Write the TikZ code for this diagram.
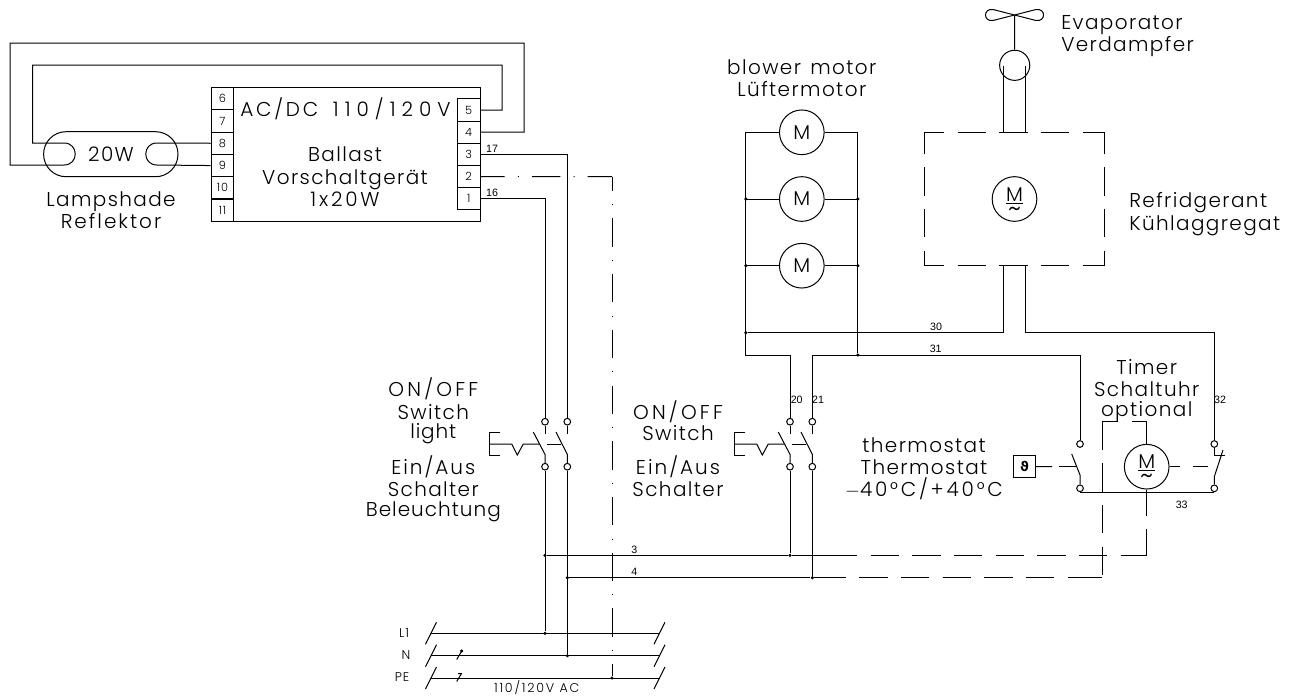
\documentclass[tikz,border=0pt]{standalone}
\usepackage{fontspec}
\setmainfont{Poppins}[UprightFont=* Light,LetterSpace=7]
\newfontfamily\numfont{Liberation Sans}
\newfontfamily\symfont{DejaVu Sans}
\newcommand{\wider}[1]{\addfontfeature{LetterSpace=#1}}
\newcommand{\acmotor}{\rule{0pt}{15pt}\underline{M}\\[-3pt]{\fontsize{20}{20}\selectfont\textasciitilde}}
\tikzset{
    wire/.style={line width=.75pt},
    dashwire/.style={wire,dash pattern=on 21.2pt off 10.05pt},
    pewire/.style={wire,dash pattern=on 21.2pt off 10pt on .8pt off 9.8pt},
    term/.style={circle,draw,line width=.75pt,fill=white,minimum size=5pt,inner sep=0pt},
    junct/.style={circle,fill=black,minimum size=2.6pt,inner sep=0pt},
    motor/.style={circle,draw,line width=.75pt,minimum size=33.5pt,inner sep=0pt,font=\fontsize{15}{15}\selectfont},
    pin/.style={draw,line width=.75pt,minimum width=17pt,minimum height=16.7pt,inner sep=0pt,font=\fontsize{8.5}{9}\selectfont},
    big/.style={anchor=base,inner sep=0pt,font=\fontsize{15}{15}\selectfont},
    bigw/.style={big,anchor=base west},
    tiny/.style={inner sep=0pt,font=\numfont\fontsize{8}{9}\selectfont},
    small/.style={inner sep=0pt,font=\fontsize{9.5}{10}\selectfont},
}
\begin{document}
\begin{tikzpicture}[x=.75pt,y=-.75pt]
    \useasboundingbox (0,0) rectangle (1295,697);
    % ballast
    \draw[wire] (211,87.5) rectangle (480,221);
    \foreach \n [count=\i] in {6,...,11}
        \node[pin] (tl\n) at (222.5,87.5+11.15+22.3*\i-22.3) {\n};
    \foreach \n [count=\i] in {5,...,1}
        \node[pin,fill=white] (tr\n) at (468.7,110+22.2*\i-22.2) {\n};
    \node[bigw] at (240,116) {{\wider{14}AC/DC}\hspace{11pt}{\wider{30}110/120V}};
    \node[big] at (345,161.7) {Ballast};
    \node[big] at (345,184) {Vorschaltgerät};
    \node[big] at (345,206.7) {{\wider{14}1x20W}};
    % lamp
    \draw[wire,rounded corners=16.8pt] (43.6,131.7) rectangle (178,176.7);
    \node[big] at (111,161.7) {20W};
    \node[big] at (111,206) {Lampshade};
    \node[big] at (111,228.5) {{\wider{10}Reflektor}};
    \coordinate (outerNE) at (524,43);
    \coordinate (outerSW) at (10,165);
    \coordinate (innerNE) at (502,65);
    \coordinate (innerSW) at (32.5,143);
    \draw[wire] (tr4.east) -| (outerNE) -| (outerSW) -- (64,165) .. controls (79,165) and (79,143) .. (64,143) -- (innerSW) |- (innerNE) |- (tr5.east);
    \draw[wire] (tl8.west) -- (157,143) .. controls (142,143) and (142,165) .. (157,165) -- (tl9.west);
    % bus and mains
    \foreach \name/\by/\txt/\lx in {L1/633.3/L1/404,N/655.7/N/406,PE/678/PE/402}{
        \coordinate (\name a) at (431,\by);
        \coordinate (\name b) at (659.5,\by);
        \draw[wire] (\name a) -- (\name b);
        \draw[wire] (\name a) ++(5.5,-11) -- ++(-11,22);
        \draw[wire] (\name b) ++(5.5,-11) -- ++(-11,22);
        \node[small] (lab\name) at (\lx,\by-.5) {\txt};
    }
    \draw[wire] (461.7,651) -- (456.7,659.5);
    \node[junct] at (461.7,651) {};
    \draw[wire] (456.7,681.5) -- (461.5,673.5) -- (458,673.5);
    \node[small] (acnote) at (536.7,688) {{\wider{14}110/120V AC}};
    % switches
    \foreach \sx in {0,245}{
        \node[term] (ua\sx) at ({545+\sx},421.7) {};
        \node[term] (ub\sx) at ({567.3+\sx},421.7) {};
        \node[term] (la\sx) at ({545+\sx},466.7) {};
        \node[term] (lb\sx) at ({567.3+\sx},466.7) {};
        \draw[wire] (ua\sx.south) -- ++(0,8.5);
        \draw[wire] (ub\sx.south) -- ++(0,8.5);
        \draw[wire] (la\sx.north) -- ++(0,-8.5) -- ++(-11.7,-22.3);
        \draw[wire] (lb\sx.north) -- ++(0,-8.5) -- ++(-11.3,-22.3);
        \draw[wire] ({500+\sx},432.7) -- ({489.3+\sx},432.7) -- ({489.3+\sx},455) -- ({500+\sx},455);
        \draw[wire] ({489.3+\sx},444) -- ({511.7+\sx},444) -- ({517.3+\sx},455) -- ({523.3+\sx},444) -- ({539.7+\sx},444);
        \draw[wire] ({546.7+\sx},444) -- ({561+\sx},444);
    }
    % wires down from the ballast
    \node[junct] (j3a) at (545,555.3) {};
    \node[junct] (j4a) at (567.3,577.7) {};
    \node[junct] (jL1) at (545,633.3) {};
    \node[junct] (jN) at (567.3,655.7) {};
    \node[junct] (jPE) at (612,678) {};
    \node[junct] (j3b) at (790,555.3) {};
    \node[junct] (j4b) at (812.3,577.7) {};
    \draw[wire] (tr1.east) -| (ua0.north);
    \draw[wire] (tr3.east) -| (ub0.north);
    \draw[wire] (la0.south) -- (jL1);
    \draw[wire] (lb0.south) -- (jN);
    \draw[wire] (la245.south) -- (j3b);
    \draw[wire] (lb245.south) -- (j4b);
    \node[tiny] (n17) at (492,149) {17};
    \node[tiny] (n16) at (492,193) {16};
    \node[tiny] (n3) at (634.3,550) {3};
    \node[tiny] (n4) at (634.3,572) {4};
    % PE line
    \coordinate (peC) at (612,176.7);
    \draw[pewire,dash phase=3.2pt] (tr2.east) -- (peC);
    \draw[pewire,dash phase=10.6pt] (peC) -- (jPE);
    % 3 and 4
    \coordinate (d3) at (829,555.3);
    \coordinate (d4) at (859.3,577.7);
    \coordinate (t4) at (1102.3,421.7);
    \coordinate (e4) at (1068,577.7);
    \draw[wire] (j3a) -- (j3b) -- (d3);
    \draw[wire] (j4a) -- (j4b) -- (846,577.7);
    \draw[dashwire] (d4) -- (e4);
    \draw[wire] (e4) -- (1102.3,577.7);
    \draw[dashwire] (t4) -- (1102.3,577.7);
    % refrigerant
    \draw[dashwire,dash phase=6.45pt] (924.6,132.3) -- (1104.4,132.3);
    \draw[dashwire,dash phase=6.45pt] (924.6,265.7) -- (1104.4,265.7);
    \draw[dashwire,dash phase=5pt] (924.6,132.3) -- (924.6,265.7);
    \draw[dashwire,dash phase=5pt] (1104.4,132.3) -- (1104.4,265.7);
    \node[motor,align=center] (mr) at (1014.5,199) {\acmotor};
    \node[circle,draw,wire,minimum size=22.6pt,inner sep=0pt] (fanhub) at (1014.7,65.3) {};
    \coordinate (fan) at (1014.5,15);
    \draw[wire] (fanhub.north) -- (fan);
    \draw[wire] (fan) -- (993,9.5) .. controls (983,8) and (983,22) .. (993,20.5) -- (1036,9.5) .. controls (1046,8) and (1046,22) .. (1036,20.5) -- (fan);
    \draw[wire] (1003.6,132.3) -- (1003.6,66);
    \draw[wire] (1025.8,132.3) -- (1025.8,66);
    \node[bigw] at (1061,29.3) {Evaporator};
    \node[bigw] at (1061,51.7) {Verdampfer};
    \node[bigw] at (1129,207.3) {Refridgerant};
    \node[bigw] at (1129,230) {Kühlaggregat};
    % blower motors
    \node[big] at (801.8,74) {blower\hspace{7pt}motor};
    \node[big] at (801.8,96.7) {Lüftermotor};
    \coordinate (railL) at (745.8,132.3);
    \coordinate (railR) at (857.8,132.3);
    \node[junct] (j30) at (745.8,332.7) {};
    \node[junct] (j31) at (857.8,355) {};
    \foreach \y [count=\i] in {132.3,199,265.7}{
        \node[motor] (m\i) at (801.8,\y) {M};
    }
    \draw[wire] (m1.west) -- (railL) -- (745.8,355) -| (ua245.north);
    \draw[wire] (m1.east) -- (railR) -- (j31);
    \foreach \i in {2,3}{
        \draw[wire] (m\i.west) -- (m\i.west -| railL) node[junct] {};
        \draw[wire] (m\i.east) -- (m\i.east -| railR) node[junct] {};
    }
    % 30 31 and controls
    \node[term] (th1) at (1080,444) {};
    \node[term] (th2) at (1080,488.3) {};
    \node[term] (ti1) at (1214.3,444) {};
    \node[term] (ti2) at (1214.3,488.3) {};
    \node[motor,align=center] (mt) at (1146.7,466.7) {\acmotor};
    \coordinate (c31) at (1080,355);
    \draw[wire] (j30) -| (1003.6,265.7);
    \draw[wire] (1025.8,265.7) |- (1214.3,332.7) -- (ti1.north);
    \draw[wire] (ub245.north) |- (c31) -- (th1.north);
    \draw[wire] (th2.north) -- (1080,475) -- (1071.7,454);
    \draw[wire] (th2.south) |- (ti2.south);
    \draw[wire] (ti1.south) -- (1214.3,455) -- (1225,455);
    \draw[wire] (ti2.north) -- (1214.3,476.7) -- (1223,450);
    \draw[wire] (mt.south) -- (1146.7,515.7);
    \draw[wire] (1146.7,529) -- (1146.7,555.3) -- (1121,555.3);
    \draw[dashwire] (d3) -- (1121,555.3);
    \draw[wire] (t4) -- (1118.3,421.7);
    \draw[wire] (1131.7,421.7) -- (1146.7,421.7) -- (mt.north);
    \node[draw,wire,minimum size=16.5pt,inner sep=0pt,font=\symfont\bfseries\fontsize{10}{10}\selectfont] (tstat) at (1024.5,466.5) {ϑ};
    \draw[wire] (tstat.east) -- (1052,466.7);
    \draw[wire] (1059.3,466.7) -- (1075.5,466.7);
    \draw[wire] (mt.east) -- (1180,466.7);
    \draw[wire] (1193.3,466.7) -- (1208.3,466.7);
    \node[tiny] (n30) at (936,327.3) {30};
    \node[tiny] (n31) at (935.7,349.3) {31};
    \node[tiny] (n20) at (796.7,399.7) {20};
    \node[tiny] (n21) at (818,399.7) {21};
    \node[tiny] (n32) at (1220,399.7) {32};
    \node[tiny] (n33) at (1181.7,505) {33};
    % captions
    \node[big] at (433.3,396.7) {{\wider{16}ON/OFF}};
    \node[big] at (433.3,419.3) {Switch};
    \node[big] at (433.3,438.3) {{\wider{4}light}};
    \node[big] at (433.3,474.3) {{\wider{10}Ein/Aus}};
    \node[big] at (433.3,496.7) {Schalter};
    \node[big] at (433.3,516.7) {{\wider{5}Beleuchtung}};
    \node[big] at (678,419.3) {{\wider{16}ON/OFF}};
    \node[big] at (678,440.7) {Switch};
    \node[big] at (678,474.3) {{\wider{10}Ein/Aus}};
    \node[big] at (678,496.7) {Schalter};
    \node[big] at (924,452.7) {thermostat};
    \node[big] at (924,474.3) {Thermostat};
    \node[big] at (924,496.7) {{\wider{14}$-$40°C/+40°C}};
    \node[big] at (1146.7,374.3) {Timer};
    \node[big] at (1146.7,396.7) {Schaltuhr};
    \node[big] at (1146.7,416.7) {optional};
\end{tikzpicture}
\end{document}
